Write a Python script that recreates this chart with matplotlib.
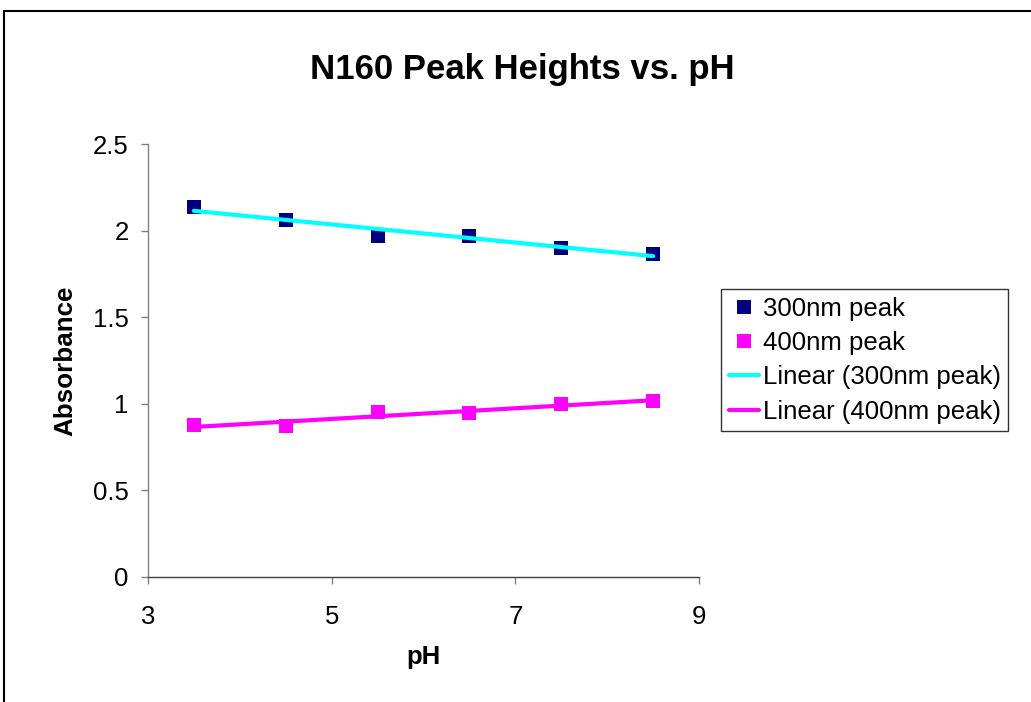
import matplotlib
matplotlib.use("Agg")
import matplotlib.pyplot as plt
import numpy as np
from matplotlib.patches import Rectangle
from matplotlib.ticker import FuncFormatter

plt.rcParams["font.family"] = ["Liberation Sans", "DejaVu Sans"]

# data
ph = [3.5, 4.5, 5.5, 6.5, 7.5, 8.5]
peak_300 = [2.135, 2.06, 1.97, 1.97, 1.90, 1.865]
peak_400 = [0.875, 0.87, 0.955, 0.945, 1.0, 1.015]
x_ticks = [3, 5, 7, 9]
y_ticks = [0, 0.5, 1, 1.5, 2, 2.5]

W, H = 1031, 702
fig = plt.figure(figsize=(W / 100, H / 100), dpi=100)
ax = fig.add_axes([148 / W, 1 - 577 / H, 551 / W, 433 / H])

# scatter points
ax.plot(ph, peak_300, ls="none", marker="s", ms=10.5, mew=0,
        color="#000080", label="300nm peak", zorder=3)
ax.plot(ph, peak_400, ls="none", marker="s", ms=10.5, mew=0,
        color="#FF00FF", label="400nm peak", zorder=3)

# linear trendlines
x = np.array(ph)
for y, col, lab in [(peak_300, "#00FFFF", "Linear (300nm peak)"),
                    (peak_400, "#FF00FF", "Linear (400nm peak)")]:
    k, b = np.polyfit(x, y, 1)
    ax.plot(x[[0, -1]], k * x[[0, -1]] + b, color=col, lw=3,
            solid_capstyle="round", label=lab, zorder=4)

ax.set_xlim(3, 9)
ax.set_ylim(0, 2.5)
ax.set_xticks(x_ticks)
ax.set_yticks(y_ticks)
ax.yaxis.set_major_formatter(FuncFormatter(lambda v, p: f"{v:g}"))
ax.tick_params(labelsize=18.5, length=5, width=1, color="#808080")
ax.tick_params(axis="x", pad=15)
ax.tick_params(axis="y", pad=9)
for s in ["top", "right"]:
    ax.spines[s].set_visible(False)
for s in ["left", "bottom"]:
    ax.spines[s].set_color("#808080")
    ax.spines[s].set_linewidth(1.0)
ax.spines["bottom"].set_color("#404040")

ax.set_xlabel("pH", fontsize=18.5, fontweight="bold", labelpad=12)
ax.set_ylabel("Absorbance", fontsize=18.7, fontweight="bold", labelpad=11)
fig.text(522 / W, 1 - 70 / H, "N160 Peak Heights vs. pH", fontsize=25,
         fontweight="bold", ha="center", va="center")

leg = fig.legend(loc="upper left", bbox_to_anchor=(721 / W, 1 - 289 / H),
                 fontsize=18.5, frameon=True, fancybox=False, shadow=False,
                 handlelength=1.17, handletextpad=0.15, borderpad=0.3,
                 labelspacing=0.4, borderaxespad=0)
leg.get_frame().set_edgecolor("black")
leg.get_frame().set_linewidth(1.0)

# outer chart-area border (runs off the right and bottom)
fig.patches.append(Rectangle((3.5 / W, -0.1), 1.2, 1.1 - 10.5 / H,
                             transform=fig.transFigure, fill=False,
                             edgecolor="black", lw=1.5))

fig.savefig("out.png", dpi=100)
